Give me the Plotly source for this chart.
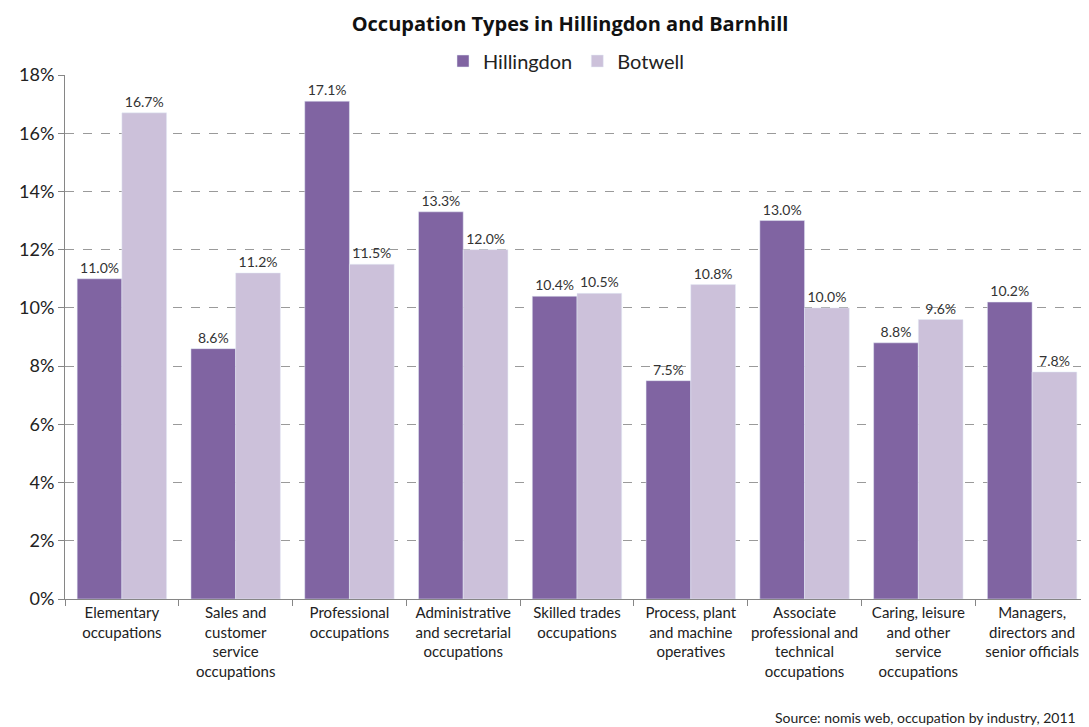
import plotly.graph_objects as go

categories = [
    "Elementary<br>occupations",
    "Sales and<br>customer<br>service<br>occupations",
    "Professional<br>occupations",
    "Administrative<br>and secretarial<br>occupations",
    "Skilled trades<br>occupations",
    "Process, plant<br>and machine<br>operatives",
    "Associate<br>professional and<br>technical<br>occupations",
    "Caring, leisure<br>and other<br>service<br>occupations",
    "Managers,<br>directors and<br>senior officials",
]
hillingdon = [11.0, 8.6, 17.1, 13.3, 10.4, 7.5, 13.0, 8.8, 10.2]
botwell = [16.7, 11.2, 11.5, 12.0, 10.5, 10.8, 10.0, 9.6, 7.8]
y_ticks = [0, 2, 4, 6, 8, 10, 12, 14, 16, 18]
y_tick_labels = [f"{v}%" for v in y_ticks]

FONT = "Lato, 'Open Sans', sans-serif"
W, H = 1081, 719
L, T, B = 57, 67, 128

fig = go.Figure()
fig.add_trace(go.Bar(
    name="Hillingdon", x=categories, y=hillingdon,
    marker_color="#8064A2",
    text=[f"{v:.1f}%" for v in hillingdon], textposition="outside",
    textfont=dict(size=14, color="#333333"), cliponaxis=False,
))
fig.add_trace(go.Bar(
    name="Botwell", x=categories, y=botwell,
    marker_color="#CCC1DA",
    text=[f"{v:.1f}%" for v in botwell], textposition="outside",
    textfont=dict(size=14, color="#333333"), cliponaxis=False,
))

plot_h = H - T - B
plot_w = W - L
fig.update_layout(
    width=W, height=H,
    paper_bgcolor="white", plot_bgcolor="white",
    font=dict(family=FONT, color="#222222"),
    barmode="group", bargap=0.214, bargroupgap=0,
    margin=dict(l=L, r=0, t=T, b=B, autoexpand=False),
    title=dict(text="<b>Occupation Types in Hillingdon and Barnhill</b>",
               x=562/W, xanchor="center", y=1 - 16/H, yanchor="middle",
               font=dict(size=20, color="#111111", family="'Open Sans', sans-serif")),
    legend=dict(orientation="h", xref="container", x=558/W, xanchor="center",
                yref="container", y=1 - 53/H, yanchor="middle",
                font=dict(size=20, color="#222222"), itemwidth=30,
                bgcolor="rgba(0,0,0,0)"),
    annotations=[dict(text="Source: nomis web, occupation by industry, 2011",
                      xref="paper", yref="paper", x=(1070 - L)/plot_w,
                      y=-(709 - (H - B))/plot_h,
                      xanchor="right", yanchor="middle", showarrow=False,
                      font=dict(size=14, color="#222222"))],
)

fig.update_yaxes(range=[0, 18], tickvals=y_ticks, ticktext=y_tick_labels,
                 showgrid=True, gridcolor="#9a9a9a", griddash="dash", gridwidth=1,
                 showline=True, linecolor="#868686", linewidth=1,
                 ticks="outside", ticklen=6, tickcolor="#868686",
                 tickfont=dict(size=18, color="#222222"), zeroline=False)
fig.update_xaxes(showline=True, linecolor="#868686", linewidth=1,
                 ticks="outside", tickson="boundaries", ticklen=6, tickcolor="#868686",
                 tickfont=dict(size=15, color="#222222"), tickangle=0)

fig.write_html("out.html")
